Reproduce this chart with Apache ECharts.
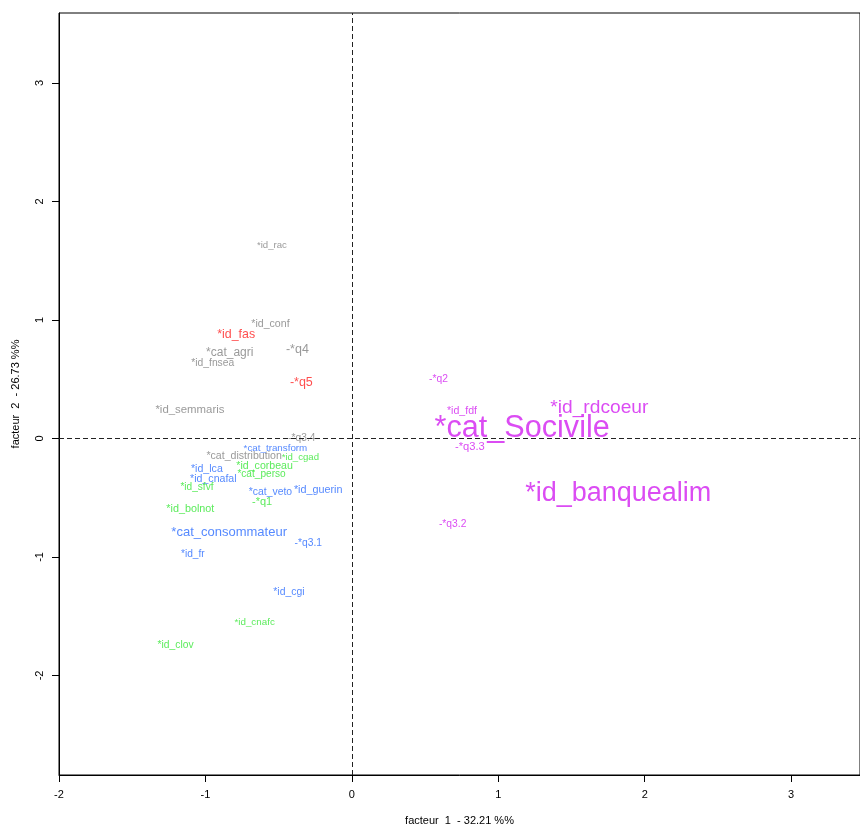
<!DOCTYPE html>
<html>
<head>
<meta charset="utf-8">
<script src="https://cdn.jsdelivr.net/npm/echarts@6/dist/echarts.min.js"></script>
<style>
html,body{margin:0;padding:0;background:#fff;overflow:hidden;width:860px;height:831px;}
#chart{width:860px;height:831px;overflow:hidden;}
</style>
</head>
<body>
<div id="chart"></div>
<script>
// ---- data ----
const labels = [
  "*id_rac","*id_conf","*cat_agri","*id_fnsea","-*q4","*id_semmaris","*cat_distribution","-*q3.4",
  "*id_fas","-*q5",
  "*cat_transform","*id_lca","*id_cnafal","*cat_veto","*id_guerin","*cat_consommateur","-*q3.1","*id_fr","*id_cgi",
  "*id_cgad","*id_corbeau","*cat_perso","*id_sfvf","-*q1","*id_bolnot","*id_cnafc","*id_clov",
  "-*q2","*id_fdf","*id_rdcoeur","*cat_Socivile","-*q3.3","*id_banquealim","-*q3.2"
];
const factor1 = [
  -0.546,-0.556,-0.834,-0.950,-0.372,-1.106,-0.736,-0.342,
  -0.790,-0.345,
  -0.522,-0.990,-0.946,-0.556,-0.230,-0.838,-0.298,-1.086,-0.430,
  -0.352,-0.596,-0.617,-1.058,-0.613,-1.103,-0.664,-1.204,
  0.592,0.752,1.690,1.163,0.806,1.819,0.688
];
const factor2 = [
  1.631,0.961,0.726,0.634,0.751,0.240,-0.153,0.000,
  0.877,0.475,
  -0.086,-0.262,-0.346,-0.455,-0.438,-0.790,-0.882,-0.974,-1.301,
  -0.162,-0.229,-0.304,-0.413,-0.539,-0.597,-1.552,-1.745,
  0.500,0.232,0.262,0.087,-0.070,-0.467,-0.723
];
const groups = [
  "gris","gris","gris","gris","gris","gris","gris","gris",
  "rouge","rouge",
  "bleu","bleu","bleu","bleu","bleu","bleu","bleu","bleu","bleu",
  "vert","vert","vert","vert","vert","vert","vert","vert",
  "magenta","magenta","magenta","magenta","magenta","magenta","magenta"
];
// relative label size (cex)
const labelCex = [
  0.8,0.88,1.0,0.86,1.04,0.95,0.88,0.85,
  1.03,1.04,
  0.82,0.88,0.88,0.87,0.9,1.08,0.86,0.85,0.87,
  0.8,0.88,0.84,0.84,0.92,0.9,0.82,0.86,
  0.86,0.88,1.6,2.55,0.93,2.25,0.86
];
const xTicks = [-2,-1,0,1,2,3];
const yTicks = [-2,-1,0,1,2,3];
const xTitle = "facteur  1  - 32.21 %%";
const yTitle = "facteur  2  - 26.73 %%";

// ---- styles ----
const groupColors = {gris:"#7f7f7f", rouge:"#ff2222", bleu:"#2a6bff", vert:"#33e633", magenta:"#d21ff0"};
const baseFont = 12;
const fontFamily = "'Liberation Sans', Arial, sans-serif";

const points = labels.map((name, i) => ({
  name: name,
  value: [factor1[i], factor2[i]],
  label: {
    color: groupColors[groups[i]],
    fontSize: Math.round(baseFont * labelCex[i] * 10) / 10
  }
}));

const chart = echarts.init(document.getElementById('chart'), null, {renderer: 'canvas', width: 860, height: 831});
const axisCommon = {
  type: 'value',
  splitLine: {show: false},
  axisLine: {show: true, onZero: false, lineStyle: {color: '#000', width: 1}},
  axisTick: {show: true, inside: false, length: 7, lineStyle: {color: '#000'}},
  nameLocation: 'middle',
  nameTextStyle: {color: '#000', fontSize: 11, fontFamily: fontFamily}
};
chart.setOption({
  backgroundColor: '#fff',
  animation: false,
  grid: {left: 59, top: 13, width: 805, height: 767.5, show: true, borderColor: '#000', borderWidth: 1, containLabel: false},
  xAxis: Object.assign({}, axisCommon, {
    min: -2, max: 3.47,
    name: xTitle, nameGap: 40,
    axisTick: Object.assign({}, axisCommon.axisTick, {customValues: xTicks}),
    axisLabel: {customValues: xTicks, color: '#000', fontSize: 11, margin: 14, fontFamily: fontFamily}
  }),
  yAxis: Object.assign({}, axisCommon, {
    min: -2.84, max: 3.59,
    name: yTitle, nameGap: 38, nameRotate: 90,
    axisTick: Object.assign({}, axisCommon.axisTick, {customValues: yTicks}),
    axisLabel: {customValues: yTicks, color: '#000', fontSize: 11, margin: 14, rotate: 90, fontFamily: fontFamily}
  }),
  series: [{
    type: 'scatter',
    symbolSize: 0,
    silent: true,
    data: points,
    label: {
      show: true,
      position: 'inside',
      align: 'center',
      verticalAlign: 'middle',
      fontFamily: fontFamily,
      formatter: '{b}'
    },
    emphasis: {disabled: true},
    markLine: {
      silent: true,
      symbol: ['none', 'none'],
      label: {show: false},
      lineStyle: {color: '#222', type: [5, 3], width: 1},
      data: [{xAxis: 0}, {yAxis: 0}]
    }
  }]
});
</script>
</body>
</html>
